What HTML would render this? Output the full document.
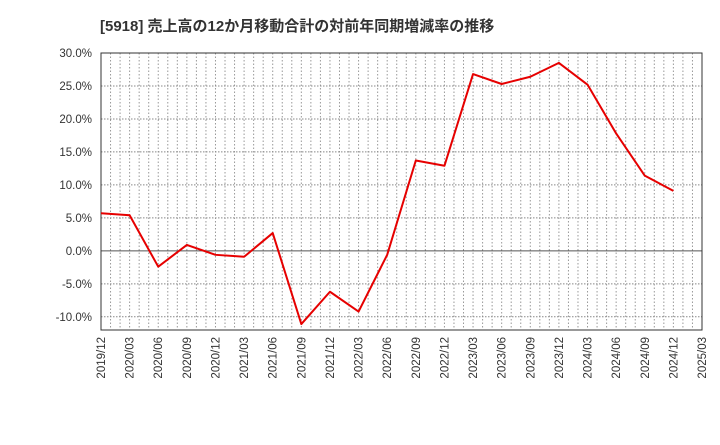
<!DOCTYPE html>
<html><head><meta charset="utf-8"><style>
body{margin:0;background:#fff;}
svg text{font-family:"Liberation Sans","Noto Sans CJK JP",sans-serif;}
</style></head><body>
<svg id="c" width="720" height="440" xmlns="http://www.w3.org/2000/svg">
<text x="100" y="31" font-size="15" font-weight="bold" fill="#333">[5918]  売上高の12か月移動合計の対前年同期増減率の推移</text>
<g id="grid"></g><g id="axes"></g><g id="series"></g>
</svg>
<script>
const categories=["2019/12","2020/03","2020/06","2020/09","2020/12","2021/03","2021/06","2021/09","2021/12","2022/03","2022/06","2022/09","2022/12","2023/03","2023/06","2023/09","2023/12","2024/03","2024/06","2024/09","2024/12","2025/03"];
const values=[5.7,5.4,-2.4,0.9,-0.6,-0.9,2.7,-11.1,-6.2,-9.2,-0.6,13.7,12.9,26.8,25.3,26.4,28.5,25.2,17.8,11.4,9.1];
const yTicks=[30,25,20,15,10,5,0,-5,-10];
const NS="http://www.w3.org/2000/svg";
const L=101,R=702,T=53,B=330,yMax=30,yMin=-12;
const x=i=>L+(R-L)*i/(categories.length-1);
const y=v=>T+(yMax-v)*(B-T)/(yMax-yMin);
function mk(tag,attrs,parent){const e=document.createElementNS(NS,tag);for(const k in attrs)e.setAttribute(k,attrs[k]);parent.appendChild(e);return e;}
const grid=document.getElementById('grid'),axes=document.getElementById('axes'),series=document.getElementById('series');
for(let m=1;m<(categories.length-1)*3;m++){const xx=L+(R-L)*m/((categories.length-1)*3);
const l=mk('line',{x1:xx,x2:xx,y1:T,y2:B,stroke:'#999','stroke-dasharray':'1.5,2','stroke-width':1},grid);

}
yTicks.forEach(v=>{const yy=y(v);
const l=mk('line',{x1:L,x2:R,y1:yy,y2:yy,stroke:v===0?'#555':'#888','stroke-dasharray':v===0?'':'1.5,1.5','stroke-width':1},grid);


const t=mk('text',{x:L-9,y:yy+4,'text-anchor':'end','font-size':11.5,fill:'#333'},axes);t.textContent=v.toFixed(1)+'%';

});
const fr=mk('rect',{x:L,y:T,width:R-L,height:B-T,fill:'none',stroke:'#333','stroke-width':1},axes);


categories.forEach((c,i)=>{const xx=x(i);
const t=mk('text',{x:0,y:0,'text-anchor':'end','font-size':11.5,fill:'#333',transform:`translate(${xx+4},${B+7}) rotate(-90)`},axes);t.textContent=c;

});
const p=mk('polyline',{points:values.map((v,i)=>x(i)+','+y(v)).join(' '),fill:'none',stroke:'#e60000','stroke-width':2,'stroke-linejoin':'round'},series);


</script>
</body></html>
